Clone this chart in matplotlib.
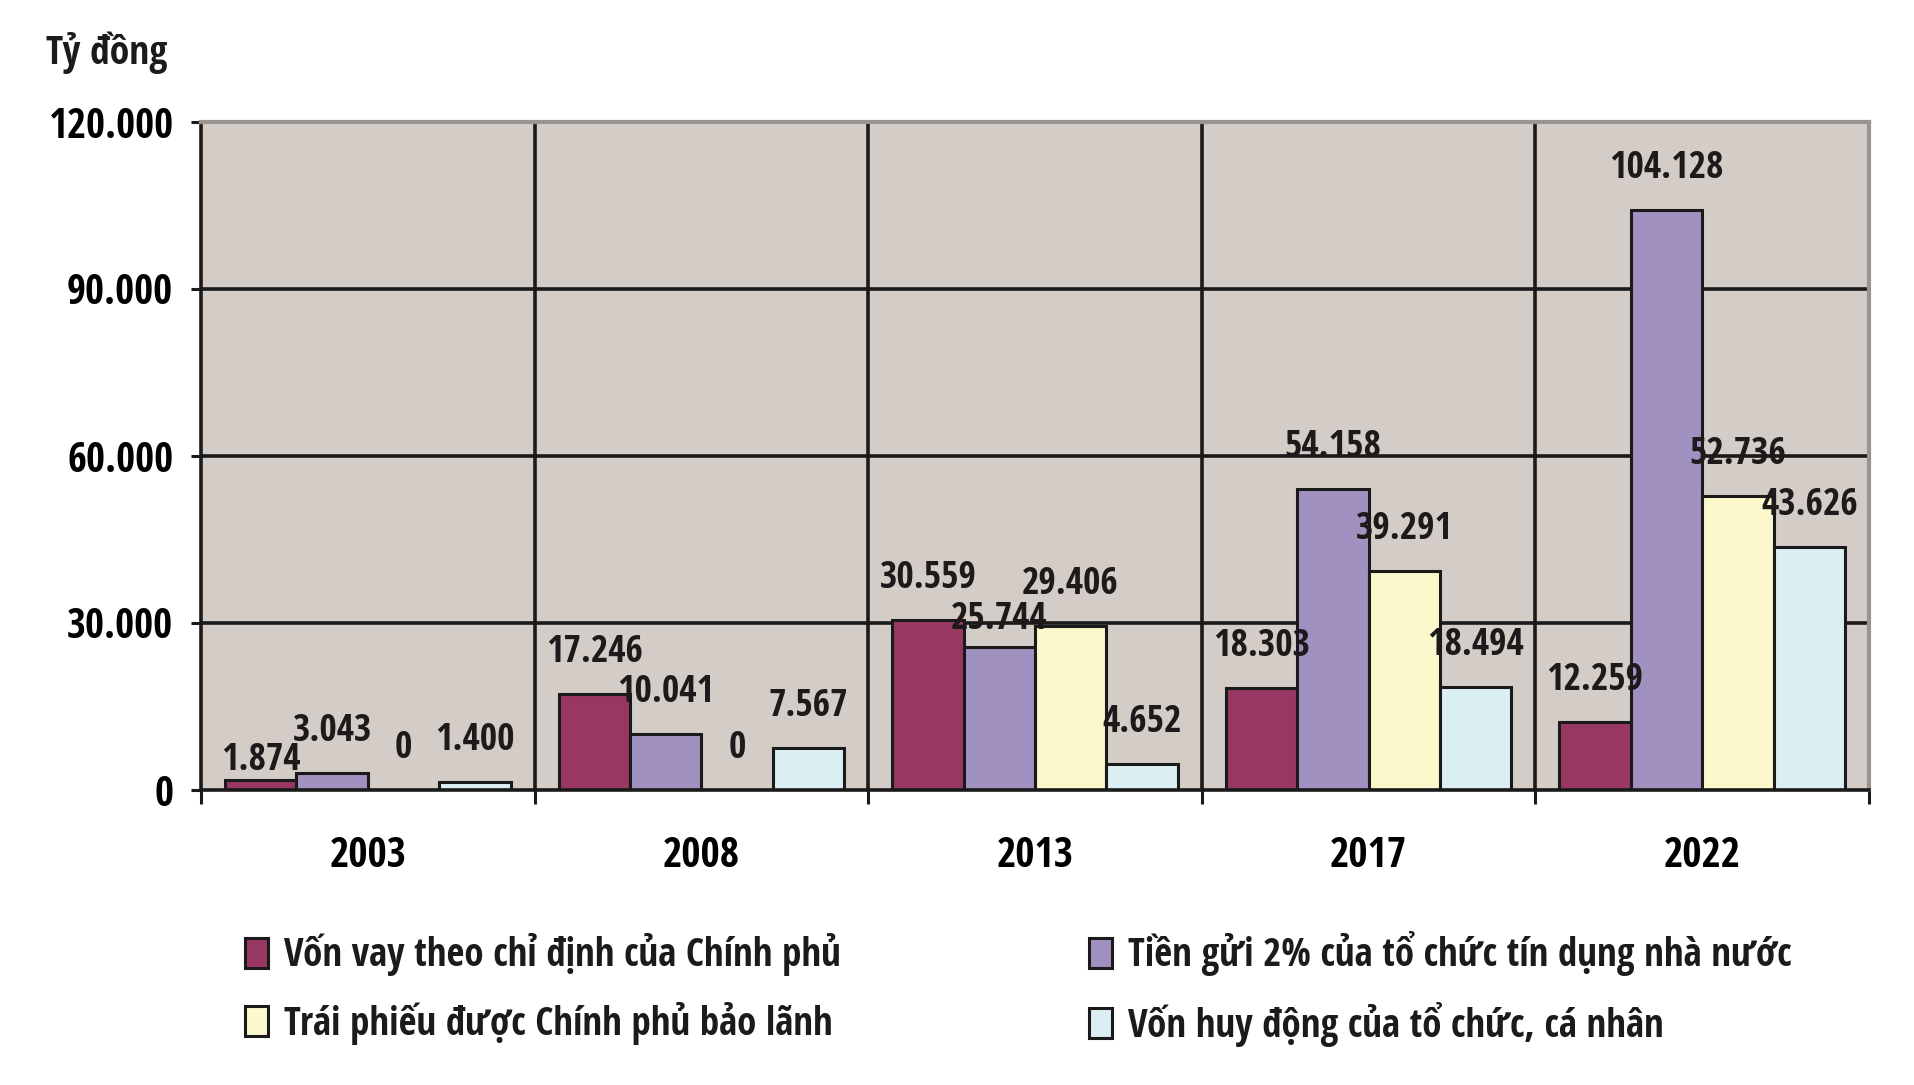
import matplotlib.pyplot as plt
import numpy as np

# số liệu (tỷ đồng)
years = ['2003', '2008', '2013', '2017', '2022']
von_vay = [1874, 17246, 30559, 18303, 12259]
tien_gui = [3043, 10041, 25744, 54158, 104128]
trai_phieu = [0, 0, 29406, 39291, 52736]
von_huy_dong = [1400, 7567, 4652, 18494, 43626]
series_names = ['Vốn vay theo chỉ định của Chính phủ',
                'Tiền gửi 2% của tổ chức tín dụng nhà nước',
                'Trái phiếu được Chính phủ bảo lãnh',
                'Vốn huy động của tổ chức, cá nhân']
y_ticks = [0, 30000, 60000, 90000, 120000]

colors = ['#983862', '#a091c0', '#fbf8cc', '#dbeef3']
text_color = '#1c1a1a'

plt.rcParams['font.family'] = ['Open Sans Condensed', 'DejaVu Sans']
plt.rcParams['font.weight'] = 'bold'
plt.rcParams['text.color'] = text_color


def fmt(v):
    # dấu chấm ngăn cách hàng nghìn
    return f'{v:,}'.replace(',', '.')


W, H = 1915, 1085
fig = plt.figure(figsize=(W / 100, H / 100), dpi=100)
ax = fig.add_axes([201 / W, 1 - 790 / H, (1869 - 201) / W, (790 - 122) / H])
ax.set_facecolor('#d4ccc7')

all_series = [von_vay, tien_gui, trai_phieu, von_huy_dong]
x = np.arange(len(years))
w = 0.214
bars = []
for i, vals in enumerate(all_series):
    b = ax.bar(x + (i - 1.5) * w, vals, w, color=colors[i], edgecolor='#1a1a1a',
               linewidth=2.2, zorder=2, label=series_names[i])
    bars.append(b)

# nhãn giá trị trên cột (một vài nhãn nằm thấp hơn như bản gốc)
special = {(0, 0): 7, (1, 2): 13}
for i, vals in enumerate(all_series):
    for j, v in enumerate(vals):
        off = special.get((i, j), 23)
        ax.annotate(fmt(v), (x[j] + (i - 1.5) * w, v), xytext=(0, off),
                    textcoords='offset points', ha='center', va='baseline',
                    fontsize=27, fontweight='bold', zorder=5)

ax.set_xlim(-0.5, len(years) - 0.5)
ax.set_ylim(0, 120000)

# lưới đen bên trong khung
for yv in y_ticks[1:-1]:
    ax.axhline(yv, color='#1a1a1a', linewidth=2.6, zorder=0.5)
for xv in np.arange(0.5, len(years) - 0.5, 1):
    ax.axvline(xv, color='#1a1a1a', linewidth=2.6, zorder=0.5)

ax.set_yticks(y_ticks)
ax.set_yticklabels([fmt(v) for v in y_ticks], fontsize=29.5, fontweight='bold')
ax.tick_params(axis='y', length=7, width=2.2, pad=13, color='#1a1a1a')

ax.set_xticks(np.arange(-0.5, len(years), 1))
ax.set_xticklabels([])
ax.set_xticks(x, minor=True)
ax.set_xticklabels(years, minor=True, fontsize=30, fontweight='bold')
ax.tick_params(axis='x', which='major', length=10, width=2.2, color='#1a1a1a')
ax.tick_params(axis='x', which='minor', length=0, pad=33)

for s in ['left', 'bottom']:
    ax.spines[s].set_color('#1a1a1a')
    ax.spines[s].set_linewidth(2.6)
for s in ['top', 'right']:
    ax.spines[s].set_color('#9a9490')
    ax.spines[s].set_linewidth(3)

fig.text(46 / W, 1 - 64 / H, 'Tỷ đồng', ha='left', va='baseline',
         fontsize=28.5, fontweight='bold')

# chú thích hai cột
leg_kw = dict(loc='center left', frameon=False, fontsize=28, borderpad=0,
              borderaxespad=0, handlelength=0.6, handleheight=0.8,
              handletextpad=0.4, labelspacing=0.65)
fig.legend([bars[0], bars[2]], [series_names[0], series_names[2]],
           bbox_to_anchor=(245 / W, 1 - 989 / H), **leg_kw)
fig.legend([bars[1], bars[3]], [series_names[1], series_names[3]],
           bbox_to_anchor=(1089 / W, 1 - 989 / H), **leg_kw)

fig.savefig('out.png', dpi=100)
